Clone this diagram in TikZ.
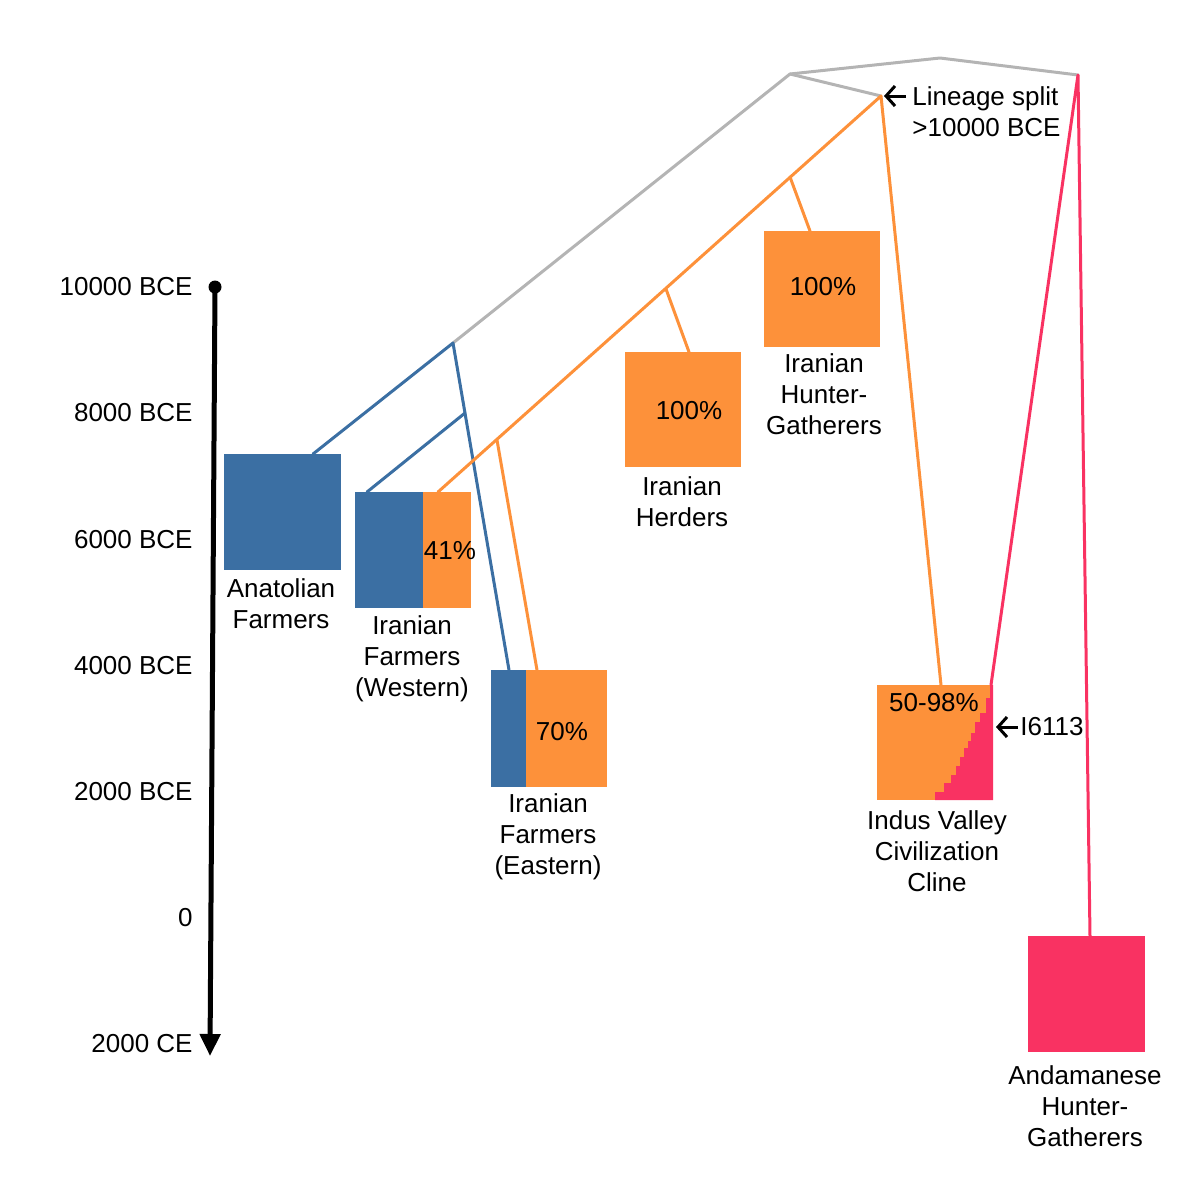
\documentclass[tikz,border=0pt]{standalone}
\usepackage{fontspec}
\setmainfont{Liberation Sans}
\usetikzlibrary{arrows.meta}
\definecolor{tblue}{RGB}{59,111,163}
\definecolor{torange}{RGB}{253,145,58}
\definecolor{tpink}{RGB}{249,50,98}
\definecolor{tgray}{RGB}{180,180,180}
\begin{document}
\begin{tikzpicture}[x=0.5pt,y=-0.5pt,
  box/.style={inner sep=0pt,outer sep=0pt,anchor=north west,draw=none},
  lab/.style={font=\fontsize{13}{15.5}\selectfont,align=center,anchor=north,inner sep=0pt},
  pct/.style={font=\fontsize{13}{15.5}\selectfont,inner sep=0pt},
  axlab/.style={font=\fontsize{13}{15.5}\selectfont,anchor=east,inner sep=0pt},
  ln/.style={line width=1.5pt,line join=round,line cap=round},
  note/.style={-{Straight Barb[length=4.5pt,width=10pt]},line width=1.5pt}]
\useasboundingbox (0,0) rectangle (1199,1200);

% ---- time axis ----
\coordinate (axtop) at (215,287);
\coordinate (axbot) at (210,1056);
\fill (axtop) circle (6.5);
\draw[line width=2.5pt,-{Triangle[length=11pt,width=10pt]}] (axtop) -- (axbot);
\node[axlab] (t1) at (193,287) {10000 BCE};
\node[axlab] (t2) at (193,413) {8000 BCE};
\node[axlab] (t3) at (193,540) {6000 BCE};
\node[axlab] (t4) at (193,666) {4000 BCE};
\node[axlab] (t5) at (193,792) {2000 BCE};
\node[axlab] (t6) at (193,918) {0};
\node[axlab] (t7) at (193,1044) {2000 CE};

% ---- boxes ----
\node[box,fill=tblue,minimum width=58.5pt,minimum height=58pt] (ana) at (224,454) {};
\node[box,fill=tblue,minimum width=34pt,minimum height=58pt] (wblue) at (355,492) {};
\node[box,fill=torange,minimum width=24pt,minimum height=58pt] (worange) at (423,492) {};
\node[box,fill=tblue,minimum width=17.5pt,minimum height=58.5pt] (eblue) at (491,670) {};
\node[box,fill=torange,minimum width=40.5pt,minimum height=58.5pt] (eorange) at (526,670) {};
\node[box,fill=torange,minimum width=58pt,minimum height=57.5pt] (herd) at (625,352) {};
\node[box,fill=torange,minimum width=58pt,minimum height=58pt] (ihg) at (764,231) {};
\node[box,fill=torange,minimum width=58pt,minimum height=57.5pt] (ivc) at (877,685) {};
\node[box,fill=tpink,minimum width=58.5pt,minimum height=58pt] (aha) at (1028,936) {};
% cline staircase
\fill[tpink] (993,685) -- (990,685) -- (990,698) -- (986,698) -- (986,713) -- (980,713)
  -- (980,722) -- (975,722) -- (975,733) -- (971,733) -- (971,741) -- (968,741)
  -- (968,748) -- (964,748) -- (964,757) -- (960,757) -- (960,766) -- (956,766)
  -- (956,775) -- (951,775) -- (951,783) -- (944,783) -- (944,792) -- (935,792)
  -- (935,800) -- (993,800) -- cycle;

% ---- percentages ----
\node[pct] (p41) at (450,551) {41\%};
\node[pct] (p70) at (562,732) {70\%};
\node[pct] (p100a) at (689,411) {100\%};
\node[pct] (p100b) at (823,287) {100\%};
\node[pct] (p5098) at (934,703) {50-98\%};

% ---- labels ----
\node[lab] (lana) at (281,578) {Anatolian\\Farmers};
\node[lab] (lw) at (412,615) {Iranian\\Farmers\\(Western)};
\node[lab] (le) at (548,793) {Iranian\\Farmers\\(Eastern)};
\node[lab] (lh) at (682,476) {Iranian\\Herders};
\node[lab] (lhg) at (824,353) {Iranian\\Hunter-\\Gatherers};
\node[lab] (livc) at (937,810) {Indus Valley\\Civilization\\Cline};
\node[lab] (laha) at (1085,1065) {Andamanese\\Hunter-\\Gatherers};

% ---- tree coordinates ----
\coordinate (root) at (940,58);
\coordinate (gA) at (790,74);
\coordinate (gB) at (1078,75);
\coordinate (split) at (881,96);
\coordinate (gW) at (453,343);
\coordinate (bW) at (465,413);
\coordinate (oHG) at (790,177);
\coordinate (oH) at (666,289);
\coordinate (oE) at (497,440);
\coordinate (anaT) at (313,454);
\coordinate (wbT) at (367,492);
\coordinate (woT) at (438,492);
\coordinate (ebT) at (509,670);
\coordinate (eoT) at (537,670);
\coordinate (hT) at (689,352);
\coordinate (hgT) at (810,231);
\coordinate (ivcO) at (941,685);
\coordinate (ivcP) at (991,685);
\coordinate (ahaT) at (1090,936);

% gray
\draw[ln,tgray] (gW) -- (gA) -- (root) -- (gB);
\draw[ln,tgray] (gA) -- (split);
% blue
\draw[ln,tblue] (anaT) -- (gW) -- (ebT);
\draw[ln,tblue] (bW) -- (wbT);
% orange
\draw[ln,torange] (woT) -- (split) -- (ivcO);
\draw[ln,torange] (oHG) -- (hgT);
\draw[ln,torange] (oH) -- (hT);
\draw[ln,torange] (oE) -- (eoT);
% pink
\draw[ln,tpink] (ivcP) -- (gB) -- (ahaT);

% ---- annotations ----
\coordinate (la1) at (906,96);
\coordinate (la2) at (884,96);
\draw[note] (la1) -- (la2);
\node[lab,anchor=north west,align=left] (lsplit) at (912,86) {Lineage split\\>10000 BCE};
\coordinate (ia1) at (1018,727);
\coordinate (ia2) at (996,727);
\draw[note] (ia1) -- (ia2);
\node[pct,anchor=west] (i6113) at (1020,727) {I6113};
\end{tikzpicture}
\end{document}
